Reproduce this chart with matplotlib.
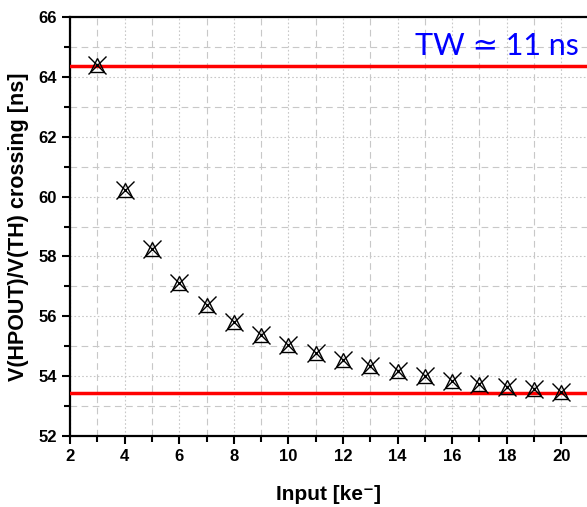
import numpy as np
import matplotlib
matplotlib.use("Agg")
import matplotlib.pyplot as plt
from matplotlib.ticker import MultipleLocator

# datos
entrada = [3, 4, 5, 6, 7, 8, 9, 10, 11, 12, 13, 14, 15, 16, 17, 18, 19, 20]
cruce = [64.4, 60.21, 58.25, 57.12, 56.37, 55.81, 55.38, 55.04, 54.76, 54.53,
         54.34, 54.17, 54.0, 53.85, 53.75, 53.65, 53.58, 53.48]
linea_sup = 64.35
linea_inf = 53.43
texto_tw = "TW \u2243 11 ns"

plt.rcParams["font.family"] = ["Liberation Sans", "DejaVu Sans"]

fig = plt.figure(figsize=(5.87, 5.07), dpi=100)
ax = fig.add_axes([0.1193, 0.140, 0.8807, 0.8264])

ax.axhline(linea_sup, color="#ff0000", lw=2.5, zorder=3)
ax.axhline(linea_inf, color="#ff0000", lw=2.5, zorder=3)

ax.plot(entrada, cruce, ls="none", marker="^", ms=10, mfc="none",
        mec="black", mew=1.0, zorder=4)
ax.plot(entrada, cruce, ls="none", marker="x", ms=13, mec="black",
        mew=1.0, zorder=4)

ax.set_xlim(2, 20.94)
ax.set_ylim(52, 66)
ax.xaxis.set_major_locator(MultipleLocator(2))
ax.xaxis.set_minor_locator(MultipleLocator(1))
ax.yaxis.set_major_locator(MultipleLocator(2))
ax.yaxis.set_minor_locator(MultipleLocator(1))

ax.grid(which="major", color="#c8c8c8", ls=(0, (1.5, 2)), lw=0.8)
ax.grid(which="minor", color="#c8c8c8", ls=(0, (6, 4)), lw=0.8)
ax.set_axisbelow(True)

ax.spines["right"].set_visible(False)
for s in ["left", "bottom", "top"]:
    ax.spines[s].set_linewidth(1.6)

ax.tick_params(which="major", direction="out", length=6, width=1.5,
               labelsize=12, top=False, right=False)
ax.tick_params(which="minor", direction="out", length=4, width=1.5,
               top=False, right=False)
for lab in ax.get_xticklabels() + ax.get_yticklabels():
    lab.set_fontweight("bold")

ax.set_xlabel("Input [ke\u207b]", fontsize=15, fontweight="bold", labelpad=15)
ax.set_ylabel("V(HPOUT)/V(TH) crossing [ns]", fontsize=15.5, fontweight="bold",
              labelpad=7)

ax.text(0.985, 0.932, texto_tw, transform=ax.transAxes, ha="right",
        va="center", color="#0000ff", fontsize=22,
        family=["Lato", "DejaVu Sans"], zorder=5)

fig.savefig("out.png", dpi=100)
